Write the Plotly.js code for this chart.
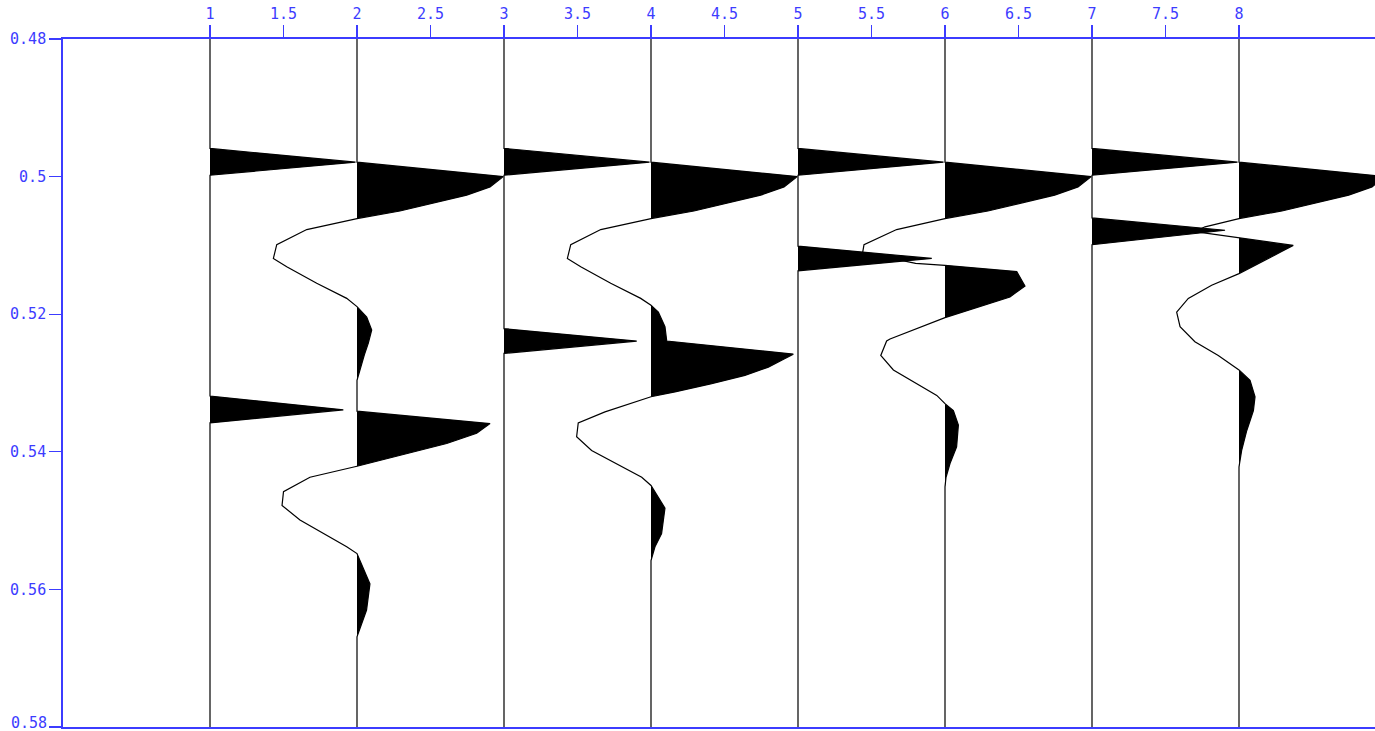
<!DOCTYPE html>
<html>
<head>
<meta charset="utf-8">
<script src="https://cdn.plot.ly/plotly-3.0.1.min.js"></script>
<style>
html,body{margin:0;padding:0;background:#fff;overflow:hidden;}
#chart{width:1375px;height:731px;}
</style>
</head>
<body>
<div id="chart"></div>
<script>
// trace positions (offsets)
const centers = [1, 2, 3, 4, 5, 6, 7, 8];

// per-trace times (s) and amplitudes
const t1 = [0.48, 0.4959, 0.4979, 0.4998, 0.5319, 0.5339, 0.5358, 0.58];
const a1 = [0, 0, 0.99, 0, 0, 0.907, 0, 0];

const t2 = [0.48, 0.4979, 0.5000, 0.5015, 0.5027, 0.5039, 0.5050, 0.5061, 0.5077, 0.5099, 0.5119, 0.5131, 0.5155, 0.5177, 0.5189, 0.5204, 0.5223, 0.5242, 0.5259, 0.5296, 0.5341, 0.5359, 0.5373, 0.5388, 0.5405, 0.5421, 0.5437, 0.5458, 0.5478, 0.5499, 0.5538, 0.5548, 0.5592, 0.5630, 0.5669, 0.58];
const a2 = [0, 0, 0.995, 0.905, 0.746, 0.519, 0.292, 0, -0.342, -0.546, -0.569, -0.478, -0.274, -0.07, 0, 0.066, 0.1, 0.077, 0.05, 0, 0, 0.905, 0.814, 0.61, 0.293, 0, -0.32, -0.5, -0.51, -0.388, -0.07, 0, 0.088, 0.065, 0, 0];

const t3 = [0.48, 0.4959, 0.4979, 0.4998, 0.5221, 0.5239, 0.5257, 0.58];
const a3 = [0, 0, 0.99, 0, 0, 0.903, 0, 0];

const t4 = [0.48, 0.4979, 0.5000, 0.5015, 0.5027, 0.5039, 0.5050, 0.5061, 0.5077, 0.5099, 0.5119, 0.5131, 0.5155, 0.5177, 0.5187, 0.5197, 0.5218, 0.5239, 0.5258, 0.5267, 0.5277, 0.5289, 0.5301, 0.5313, 0.5320, 0.5342, 0.5358, 0.5378, 0.5398, 0.5437, 0.5449, 0.5482, 0.5519, 0.5538, 0.5558, 0.58];
const a4 = [0, 0, 0.995, 0.905, 0.746, 0.519, 0.292, 0, -0.342, -0.546, -0.569, -0.478, -0.274, -0.07, 0, 0.05, 0.095, 0.107, 0.968, 0.889, 0.798, 0.639, 0.413, 0.163, 0, -0.313, -0.495, -0.506, -0.404, -0.063, 0, 0.095, 0.072, 0.027, 0, 0];

const t5 = [0.48, 0.4959, 0.4979, 0.4998, 0.5101, 0.5119, 0.5137, 0.58];
const a5 = [0, 0, 0.99, 0, 0, 0.91, 0, 0];

const t6 = [0.48, 0.4979, 0.5000, 0.5015, 0.5027, 0.5039, 0.5050, 0.5061, 0.5077, 0.5099, 0.5110, 0.5126, 0.5129, 0.5138, 0.5159, 0.5175, 0.5184, 0.5197, 0.5205, 0.5236, 0.5239, 0.5260, 0.5281, 0.5318, 0.5330, 0.5340, 0.5361, 0.5393, 0.5417, 0.5437, 0.5451, 0.58];
const a6 = [0, 0, 0.995, 0.905, 0.746, 0.519, 0.292, 0, -0.329, -0.551, -0.56, -0.2, 0, 0.488, 0.544, 0.442, 0.306, 0.125, 0, -0.374, -0.397, -0.437, -0.351, -0.056, 0, 0.057, 0.091, 0.079, 0.034, 0.007, 0, 0];

const t7 = [0.48, 0.4959, 0.4979, 0.4998, 0.5060, 0.5078, 0.5099, 0.58];
const a7 = [0, 0, 0.99, 0, 0, 0.905, 0, 0];

const t8 = [0.48, 0.4979, 0.5000, 0.5015, 0.5027, 0.5039, 0.5050, 0.5061, 0.5073, 0.5080, 0.5086, 0.5089, 0.5100, 0.5109, 0.5121, 0.5141, 0.5158, 0.5177, 0.5197, 0.5218, 0.5240, 0.5260, 0.5281, 0.5296, 0.5320, 0.5340, 0.5369, 0.5398, 0.5422, 0.58];
const a8 = [0, 0, 0.995, 0.905, 0.746, 0.519, 0.292, 0, -0.231, -0.3, -0.1, 0, 0.369, 0.29, 0.177, 0, -0.186, -0.345, -0.424, -0.401, -0.3, -0.141, 0, 0.075, 0.109, 0.098, 0.053, 0.018, 0, 0];

// tick values / labels
const xTickVals = [1, 1.5, 2, 2.5, 3, 3.5, 4, 4.5, 5, 5.5, 6, 6.5, 7, 7.5, 8];
const xTickText = ['1', '1.5', '2', '2.5', '3', '3.5', '4', '4.5', '5', '5.5', '6', '6.5', '7', '7.5', '8'];
const yTickVals = [0.48, 0.5, 0.52, 0.54, 0.56, 0.58];
const yTickText = ['0.48', '0.5', '0.52', '0.54', '0.56', '0.58'];

const times = [t1, t2, t3, t4, t5, t6, t7, t8];
const amps = [a1, a2, a3, a4, a5, a6, a7, a8];

const data = [];
centers.forEach((c, i) => {
  const t = times[i], a = amps[i];
  // positive-fill polygon (variable area), closed back along the trace axis
  data.push({
    type: 'scatter', mode: 'lines',
    x: a.map(v => c + Math.max(v, 0)),
    y: t.slice(),
    fill: 'toself', fillcolor: '#000000',
    line: {width: 0, color: 'rgba(0,0,0,0)'},
    hoverinfo: 'skip'
  });
});
centers.forEach((c, i) => {
  const t = times[i], a = amps[i];
  data.push({
    type: 'scatter', mode: 'lines',
    x: a.map(v => c + v),
    y: t.slice(),
    line: {width: 1.2, color: '#000000'},
    hoverinfo: 'skip'
  });
});

const blue = '#3c3cff';
const tickFont = {family: 'DejaVu Sans Mono, monospace', size: 15, color: blue};
const lastIdx = yTickVals.length - 1;
// the bottom-most label is placed just above its tick so it stays inside the page
const yTickTextShown = yTickText.map((s, i) => (i === lastIdx ? '' : s));

const layout = {
  width: 1375, height: 731,
  margin: {l: 63, r: 0, t: 39, b: 4, pad: 0},
  paper_bgcolor: '#ffffff', plot_bgcolor: '#ffffff',
  showlegend: false,
  xaxis: {
    side: 'top', range: [0, 1312 / 147], autorange: false,
    tickmode: 'array', tickvals: xTickVals, ticktext: xTickText,
    ticks: 'outside', ticklen: 12, tickwidth: 1.3, tickcolor: blue,
    showline: true, linecolor: blue, linewidth: 1.8, mirror: true,
    showgrid: false, zeroline: false,
    tickfont: tickFont
  },
  yaxis: {
    range: [0.58, 0.48], autorange: false,
    tickmode: 'array', tickvals: yTickVals, ticktext: yTickTextShown,
    ticks: 'outside', ticklen: 12, tickwidth: 1.3, tickcolor: blue,
    showline: true, linecolor: blue, linewidth: 1.8, mirror: false,
    showgrid: false, zeroline: false,
    tickfont: tickFont
  },
  annotations: [{
    xref: 'paper', x: 0, xanchor: 'right', xshift: -14,
    yref: 'y', y: yTickVals[lastIdx], yanchor: 'bottom', yshift: -7,
    text: yTickText[lastIdx], showarrow: false,
    font: tickFont
  }]
};

Plotly.newPlot('chart', data, layout, {staticPlot: true, displayModeBar: false});
</script>
</body>
</html>
